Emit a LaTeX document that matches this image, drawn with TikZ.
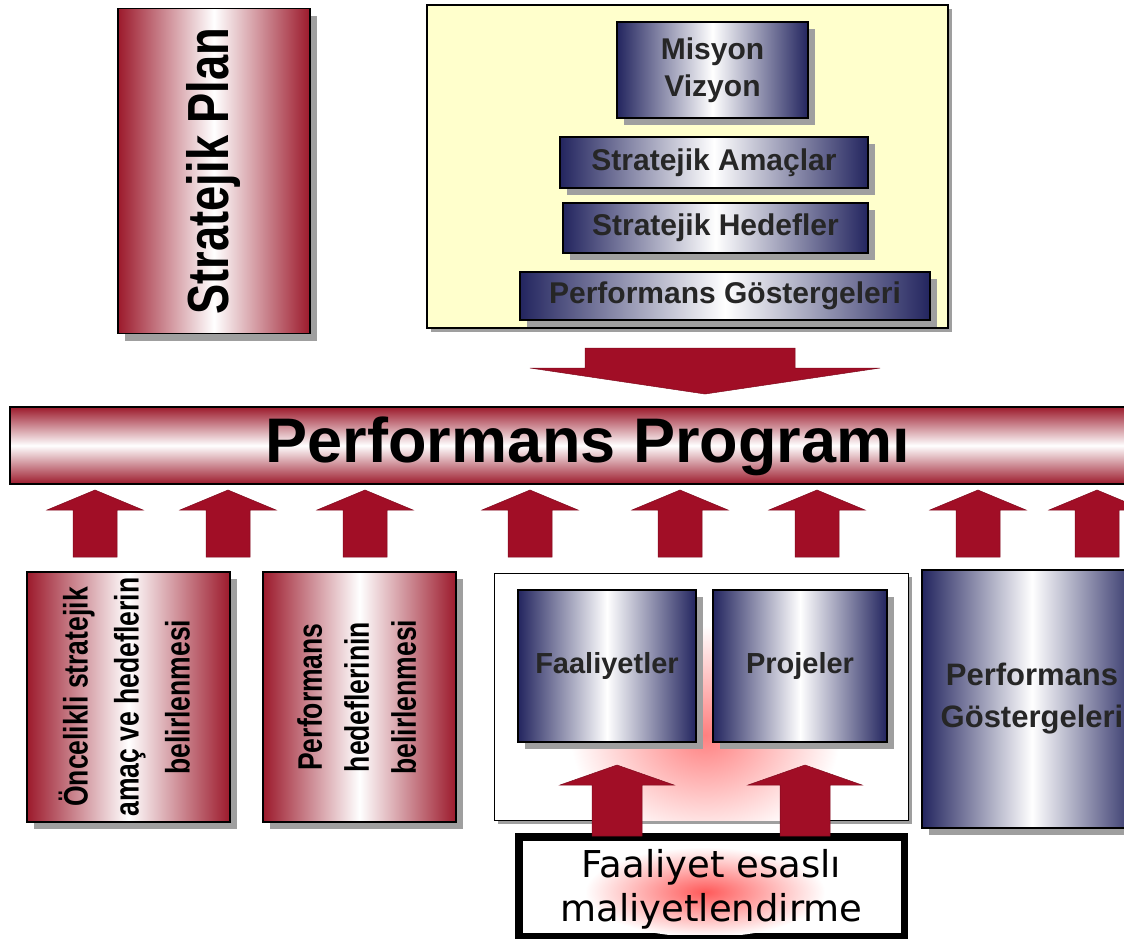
\documentclass[tikz,border=0pt]{standalone}
\usepackage{fontspec}
\setmainfont{Liberation Sans}
\newfontfamily\narrowfont[FakeStretch=0.78]{Liberation Sans}
\newfontfamily\roundfont{DejaVu Sans}
\usetikzlibrary{shadows}

\definecolor{plandark}{HTML}{9C1A2C}
\definecolor{navyblue}{HTML}{23255F}
\definecolor{paleyellow}{HTML}{FFFFCC}
\definecolor{arrowred}{HTML}{A10E26}

\tikzset{
  boxshadow/.style={drop shadow={shadow xshift=7pt, shadow yshift=-7pt, fill=gray!75, opacity=1}},
  redbox/.style={draw, line width=1.2pt, inner sep=0pt, left color=plandark, right color=plandark, middle color=white, boxshadow},
  bluebox/.style={draw, line width=1.2pt, inner sep=0pt, left color=navyblue, right color=navyblue, middle color=white, boxshadow, text=black!85},
  blockarrow/.style={fill=arrowred, draw=arrowred!80!black, line width=0.5pt},
}

\begin{document}
\begin{tikzpicture}[x=1pt, y=-1pt]
  \useasboundingbox (0,0) rectangle (1124,938);
  \clip (0,0) rectangle (1124,938);
  \fill[white] (0,0) rectangle (1124,938);

  % top left: the plan
  \node[redbox, minimum width=192, minimum height=325] (stratplan) at (214,171)
       {\rotatebox{90}{\narrowfont\bfseries\fontsize{58}{60}\selectfont Stratejik Plan}};

  % top right: the pyramid on the yellow panel
  \node[draw, line width=1.2pt, fill=paleyellow, minimum width=521, minimum height=323,
        drop shadow={shadow xshift=4pt, shadow yshift=-4pt, fill=gray!75, opacity=1}] (panel) at (687.5,166.5) {};
  \node[bluebox, minimum width=191, minimum height=96, align=center,
        font=\bfseries\fontsize{30}{37}\selectfont] (misyon) at (712.5,70) {Misyon\\Vizyon};
  \node[bluebox, minimum width=308, minimum height=51,
        font=\bfseries\fontsize{30}{36}\selectfont] (amaclar) at (714,162.5) {Stratejik Amaçlar};
  \node[bluebox, minimum width=305, minimum height=50,
        font=\bfseries\fontsize{30}{36}\selectfont] (hedefler) at (715.5,228) {Stratejik Hedefler};
  \node[bluebox, minimum width=410, minimum height=48,
        font=\bfseries\fontsize{30}{36}\selectfont] (gostergeler) at (725,296) {Performans Göstergeleri};

  % big arrow down to the programme
  \fill[blockarrow] (585,348) -- (795,348) -- (795,368) -- (880,368) -- (705,394)
        -- (530,368) -- (585,368) -- cycle;

  % the programme bar
  \node[draw, line width=1.2pt, minimum width=1130, minimum height=77, inner sep=0pt,
        top color=plandark, bottom color=plandark, middle color=white] (program) at (575,445.5) {};
  \node[font=\bfseries\fontsize{63}{65}\selectfont] (programtext) at (588,446) {Performans Programı};

  % arrows up into the bar
  \foreach \ax in {95,228,365,530,680,817,978,1097}
    \fill[blockarrow] (\ax,490) -- (\ax+48,510) -- (\ax+22,510) -- (\ax+22,557)
          -- (\ax-22,557) -- (\ax-22,510) -- (\ax-48,510) -- cycle;

  % bottom row
  \node[redbox, minimum width=203, minimum height=250] (oncelik) at (128.5,697)
       {\rotatebox{90}{\narrowfont\bfseries\fontsize{34}{51}\selectfont
        \begin{tabular}{@{}c@{}}Öncelikli stratejik\\amaç ve hedeflerin\\belirlenmesi\end{tabular}}};
  \node[redbox, minimum width=193, minimum height=250] (perfhedef) at (359.5,697)
       {\rotatebox{90}{\narrowfont\bfseries\fontsize{34}{47}\selectfont
        \begin{tabular}{@{}c@{}}Performans\\hedeflerinin\\belirlenmesi\end{tabular}}};

  \node[draw, line width=1pt, fill=white, minimum width=414, minimum height=247, inner sep=0pt,
        drop shadow={shadow xshift=4pt, shadow yshift=-4pt, fill=gray!75, opacity=1}] (faalpanel) at (701,696.5) {};
  \begin{scope}
    \clip (494,573) rectangle (908,820);
    \shade[inner color=red!50, outer color=white] (705,735) ellipse (135 and 110);
  \end{scope}
  \node[bluebox, minimum width=178, minimum height=152, font=\bfseries\fontsize{29}{34}\selectfont]
       (faaliyet) at (607,666) {Faaliyetler};
  \node[bluebox, minimum width=174, minimum height=152, font=\bfseries\fontsize{29}{34}\selectfont]
       (projeler) at (800,666) {Projeler};

  \node[bluebox, minimum width=220, minimum height=258, align=center,
        font=\bfseries\fontsize{31}{42}\selectfont] (perfgost) at (1032,699) {Performans\\Göstergeleri};

  % costing box and its two arrows
  \node[draw, line width=5pt, fill=white, minimum width=383, minimum height=97, inner sep=0pt] (maliyet) at (711.5,886.5) {};
  \begin{scope}
    \clip (maliyet.south west) rectangle (maliyet.north east);
    \shade[inner color=red!65, outer color=white] (705,892) ellipse (120 and 45);
  \end{scope}
  \draw[line width=5pt] (maliyet.south west) rectangle (maliyet.north east);
  \node[font=\roundfont\fontsize{37}{44}\selectfont, align=center] (maliyettext) at (711.5,889)
       {Faaliyet esaslı\\maliyetlendirme};

  \foreach \ax in {617,805}
    \fill[blockarrow] (\ax,765) -- (\ax+57,785) -- (\ax+25,785) -- (\ax+25,836)
          -- (\ax-25,836) -- (\ax-25,785) -- (\ax-57,785) -- cycle;
\end{tikzpicture}
\end{document}
